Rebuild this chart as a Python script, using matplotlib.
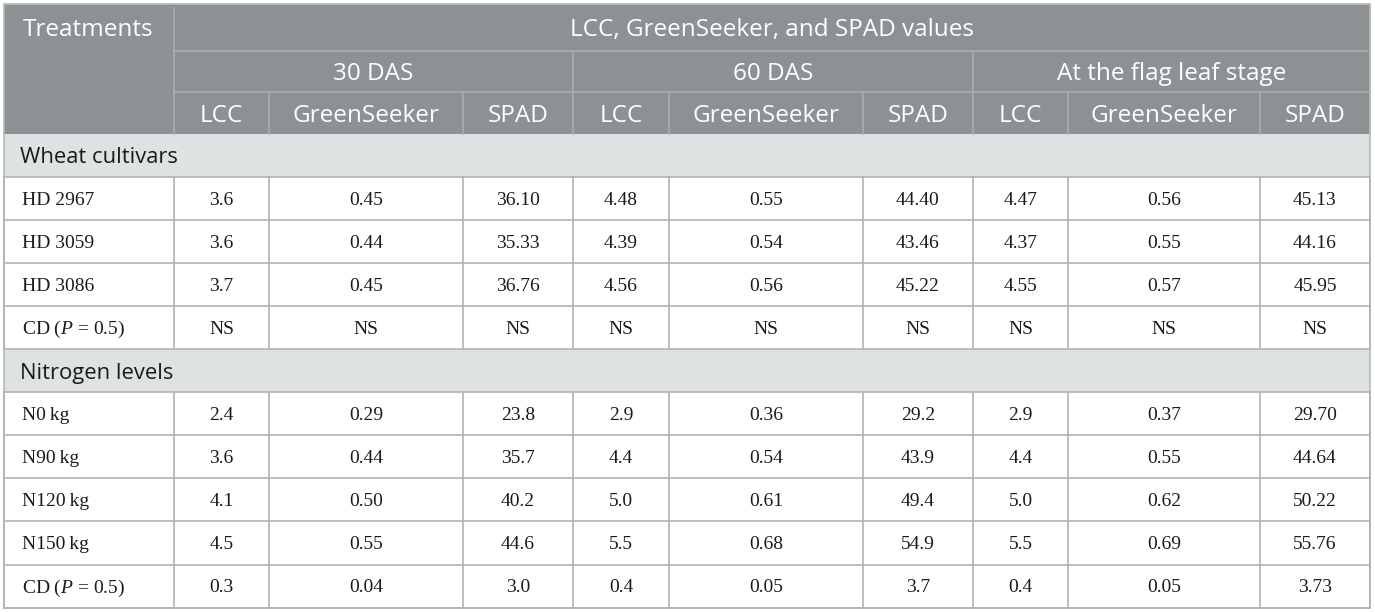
import matplotlib.pyplot as plt
from matplotlib.patches import Rectangle

plt.rcParams['mathtext.fontset'] = 'custom'
plt.rcParams['mathtext.rm'] = 'Liberation Serif'
plt.rcParams['mathtext.it'] = 'Liberation Serif:italic'

# table content
title = "LCC, GreenSeeker, and SPAD values"
stages = ["30 DAS", "60 DAS", "At the flag leaf stage"]
measures = ["LCC", "GreenSeeker", "SPAD"]

cultivars = ["HD 2967", "HD 3059", "HD 3086", r"CD ($\mathit{P}$ = 0.5)"]
hd2967 = ["3.6", "0.45", "36.10", "4.48", "0.55", "44.40", "4.47", "0.56", "45.13"]
hd3059 = ["3.6", "0.44", "35.33", "4.39", "0.54", "43.46", "4.37", "0.55", "44.16"]
hd3086 = ["3.7", "0.45", "36.76", "4.56", "0.56", "45.22", "4.55", "0.57", "45.95"]
cd_cult = ["NS"] * 9

nitrogen = ["N0\u2009kg", "N90\u2009kg", "N120\u2009kg", "N150\u2009kg", r"CD ($\mathit{P}$ = 0.5)"]
n0 = ["2.4", "0.29", "23.8", "2.9", "0.36", "29.2", "2.9", "0.37", "29.70"]
n90 = ["3.6", "0.44", "35.7", "4.4", "0.54", "43.9", "4.4", "0.55", "44.64"]
n120 = ["4.1", "0.50", "40.2", "5.0", "0.61", "49.4", "5.0", "0.62", "50.22"]
n150 = ["4.5", "0.55", "44.6", "5.5", "0.68", "54.9", "5.5", "0.69", "55.76"]
cd_n = ["0.3", "0.04", "3.0", "0.4", "0.05", "3.7", "0.4", "0.05", "3.73"]

sections = [("Wheat cultivars", cultivars, [hd2967, hd3059, hd3086, cd_cult]),
            ("Nitrogen levels", nitrogen, [n0, n90, n120, n150, cd_n])]

# layout (pixels)
xs = [4, 174, 269, 463, 573, 669, 863, 973, 1068, 1260, 1370]
head_y = [4, 51, 92, 134]
row_h = 43.05

head_bg = '#8c9194'
head_line = '#a9adaf'
sec_bg = '#dfe2e3'
grid = '#b3b3b3'
txt = '#1a1a1a'
sans = ['Open Sans', 'DejaVu Sans']
serif = ['Liberation Serif', 'DejaVu Serif']

hs = 17.5   # header font size
ss = 15.8   # section label font size
bs = 14     # body font size
px = 100 / 72


def half_cap(size, ratio):
    return ratio * size * px / 2


fig = plt.figure(figsize=(13.75, 6.12), dpi=100)
ax = fig.add_axes([0, 0, 1, 1])
ax.set_xlim(0, 1375)
ax.set_ylim(612, 0)
ax.axis('off')

L, R = xs[0], xs[-1]


def htext(x, yc, s, ha='center', color='white', size=hs):
    ax.text(x, yc + half_cap(size, 0.714), s, color=color, fontsize=size, family=sans,
            ha=ha, va='baseline')


def btext(x, yc, s, ha='center'):
    ax.text(x, yc + half_cap(bs, 0.662), s, color=txt, fontsize=bs, family=serif,
            ha=ha, va='baseline')


# header block
ax.add_patch(Rectangle((L, head_y[0]), R - L, head_y[3] - head_y[0], color=head_bg, lw=0))
ax.plot([xs[1], xs[1]], [head_y[0] + 4, head_y[3]], color=head_line, lw=1.2)
for yy in head_y[1:3]:
    ax.plot([xs[1], R], [yy, yy], color=head_line, lw=1.2)
for i in range(2, 10):
    y0 = head_y[1] if (i - 1) % 3 == 0 else head_y[2]
    ax.plot([xs[i], xs[i]], [y0, head_y[3]], color=head_line, lw=1.2)

htext(L + 19, (head_y[0] + head_y[1]) / 2, "Treatments", ha='left')
htext((xs[1] + R) / 2, (head_y[0] + head_y[1]) / 2, title)
for k, s in enumerate(stages):
    htext((xs[1 + 3 * k] + xs[4 + 3 * k]) / 2, (head_y[1] + head_y[2]) / 2, s)
for i in range(9):
    htext((xs[1 + i] + xs[2 + i]) / 2, (head_y[2] + head_y[3]) / 2, measures[i % 3])

# body
y = head_y[3]
for name, labels, rows in sections:
    ax.add_patch(Rectangle((L, y), R - L, row_h, color=sec_bg, lw=0))
    htext(L + 16, y + row_h / 2, name, ha='left', color=txt, size=ss)
    ax.plot([L, R], [y + row_h, y + row_h], color=grid, lw=1.2)
    y += row_h
    for lab, vals in zip(labels, rows):
        btext(L + 18, y + row_h / 2, lab, ha='left')
        for i, v in enumerate(vals):
            btext((xs[1 + i] + xs[2 + i]) / 2, y + row_h / 2, v)
        for xx in xs:
            ax.plot([xx, xx], [y, y + row_h], color=grid, lw=1.2)
        ax.plot([L, R], [y + row_h, y + row_h], color=grid, lw=1.2)
        y += row_h

# outer border
ax.add_patch(Rectangle((L, head_y[0]), R - L, y - head_y[0], fill=False,
                       edgecolor='#b8b8b8', lw=1.2))

fig.savefig('out.png', dpi=100)
